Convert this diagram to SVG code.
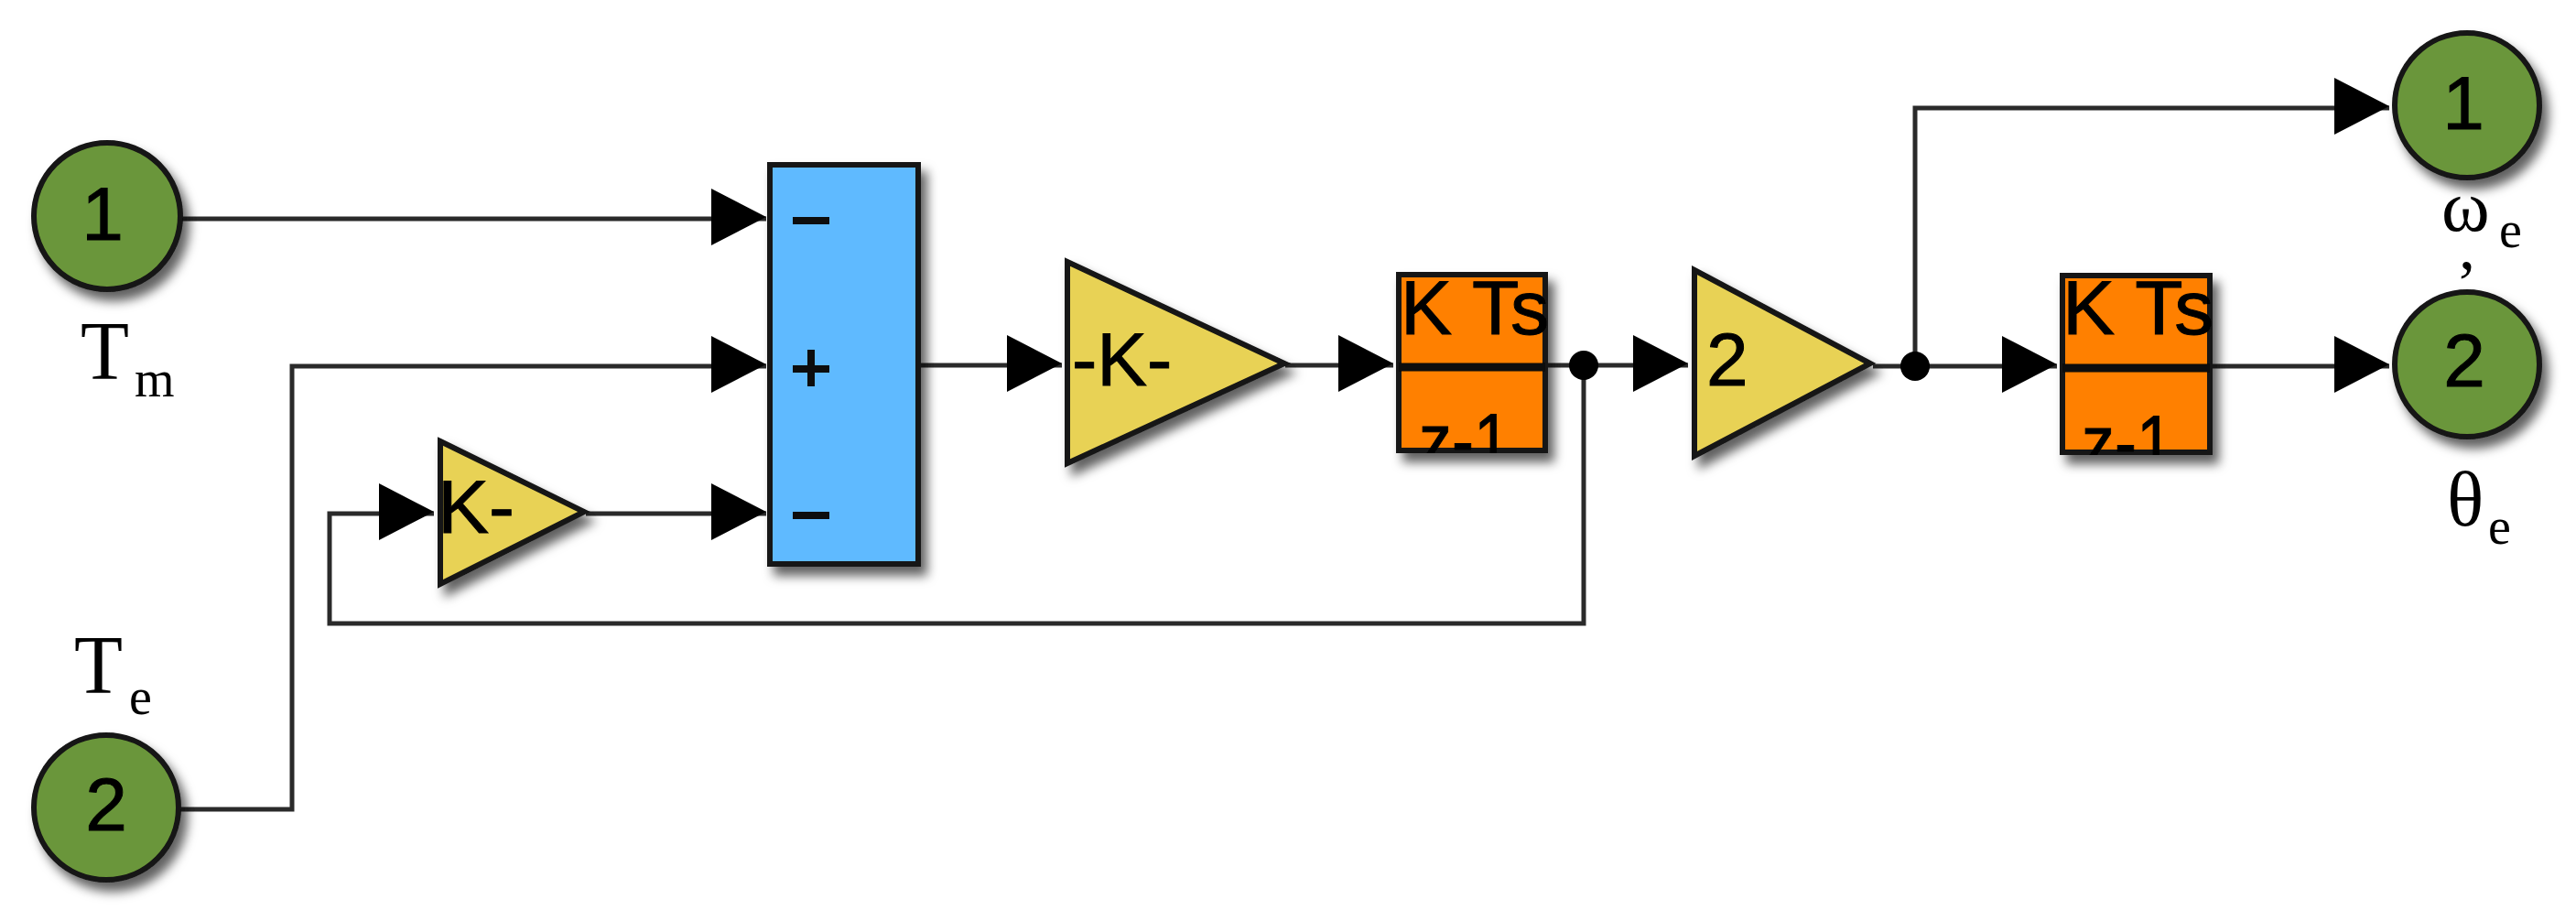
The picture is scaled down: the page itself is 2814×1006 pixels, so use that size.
<svg xmlns="http://www.w3.org/2000/svg" width="2814" height="1006" viewBox="0 0 2814 1006">
  <style>
    .wire { fill: none; stroke: #2b2b2b; stroke-width: 5; }
    .arrow { marker-end: url(#head); }
    .shape { stroke: #141414; stroke-width: 6; stroke-linejoin: miter; filter: url(#shadow); }
    .port { fill: #6b963a; }
    .gain { fill: #e8d255; }
    .sum { fill: #5fbaff; }
    .integ { fill: #ff8000; }
    .block { font-family: "Liberation Sans", Arial, sans-serif; font-size: 82px; fill: #000; stroke: #000; stroke-width: 1; }
    .wide { font-size: 84px; }
    .serif { font-family: "Liberation Serif", "Times New Roman", serif; fill: #000; }
    .big { font-size: 90px; }
    .sub { font-size: 56px; }
    .comma { font-size: 72px; }
    .bar { stroke: #0a0a0a; stroke-width: 9; fill: none; }
    .sign { stroke: #0a0a0a; stroke-width: 8; fill: none; }
  </style>
  <defs>
    <filter id="shadow" x="-20%" y="-20%" width="150%" height="150%">
      <feDropShadow dx="7" dy="10" stdDeviation="6" flood-color="#000" flood-opacity="0.62"/>
    </filter>
    <filter id="soft" filterUnits="userSpaceOnUse" x="0" y="0" width="2814" height="1006">
      <feGaussianBlur stdDeviation="0.7"/>
    </filter>
    <marker id="head" markerUnits="userSpaceOnUse" markerWidth="64" markerHeight="70" refX="60" refY="35" orient="auto" overflow="visible">
      <polygon points="0,2 60,33 0,64" fill="#000"/>
    </marker>
    <clipPath id="clipA"><rect x="1525" y="297" width="165" height="198"/></clipPath>
    <clipPath id="clipB"><rect x="2250" y="298" width="166" height="199"/></clipPath>
  </defs>

  <g filter="url(#soft)">
  <g id="connectors">
    <path class="wire arrow" d="M199 239H837"/>
    <path class="wire arrow" d="M197 884H319V400H837"/>
    <path class="wire arrow" d="M640 561H837"/>
    <path class="wire arrow" d="M1730 399V681H360V561H474"/>
    <path class="wire arrow" d="M1004 399H1160"/>
    <path class="wire arrow" d="M1404 399H1522"/>
    <path class="wire arrow" d="M1690 399H1844"/>
    <path class="wire arrow" d="M2046 400H2247"/>
    <path class="wire arrow" d="M2092 400V118H2610"/>
    <path class="wire arrow" d="M2416 400H2610"/>
    <circle cx="1730" cy="399" r="16" fill="#000"/>
    <circle cx="2092" cy="400" r="16" fill="#000"/>
  </g>

  <g id="in1">
    <circle class="shape port" cx="117" cy="236" r="80"/>
    <text class="block" x="112" y="262" text-anchor="middle">1</text>
    <text class="serif big" x="88" y="414" textLength="53" lengthAdjust="spacingAndGlyphs">T</text>
    <text class="serif sub" x="147" y="433">m</text>
  </g>
  <g id="in2">
    <circle class="shape port" cx="116" cy="882" r="79"/>
    <text class="block" x="116" y="907" text-anchor="middle">2</text>
    <text class="serif big" x="81" y="757" textLength="53" lengthAdjust="spacingAndGlyphs">T</text>
    <text class="serif sub" x="141" y="780">e</text>
  </g>

  <g id="sum">
    <rect class="shape sum" x="841" y="180" width="162" height="436"/>
    <path class="sign" d="M866 241H906M866 403H906M886 382V422M866 563H906"/>
  </g>

  <g id="gain-feedback">
    <polygon class="shape gain" points="481,482 638,559 481,638"/>
    <text class="block" x="478" y="582" textLength="84" lengthAdjust="spacingAndGlyphs">K-</text>
  </g>
  <g id="gain-k">
    <polygon class="shape gain" points="1166,286 1403,397 1166,506"/>
    <text class="block" x="1171" y="421">-K-</text>
  </g>
  <g id="integrator1">
    <rect class="shape integ" x="1528" y="300" width="160" height="192"/>
    <path class="bar" d="M1528 401H1688"/>
    <text class="block wide" x="1530" y="365" textLength="162" lengthAdjust="spacingAndGlyphs">K Ts</text>
    <text class="block wide" x="1550" y="510" clip-path="url(#clipA)" textLength="100" lengthAdjust="spacingAndGlyphs">z-1</text>
  </g>
  <g id="gain-2">
    <polygon class="shape gain" points="1851,295 2043,397 1851,498"/>
    <text class="block" x="1864" y="421">2</text>
  </g>
  <g id="integrator2">
    <rect class="shape integ" x="2253" y="301" width="161" height="193"/>
    <path class="bar" d="M2253 402H2414"/>
    <text class="block wide" x="2253" y="365" textLength="165" lengthAdjust="spacingAndGlyphs">K Ts</text>
    <text class="block wide" x="2274" y="512" clip-path="url(#clipB)" textLength="100" lengthAdjust="spacingAndGlyphs">z-1</text>
  </g>
  <g id="out1">
    <circle class="shape port" cx="2695" cy="115" r="79"/>
    <text class="block" x="2691" y="141" text-anchor="middle">1</text>
    <text class="serif" font-size="80" x="2667" y="252">ω<tspan class="sub" x="2730" y="270">e</tspan><tspan class="comma" x="2686" y="293">,</tspan></text>
  </g>
  <g id="out2">
    <circle class="shape port" cx="2695" cy="398" r="79"/>
    <text class="block" x="2692" y="422" text-anchor="middle">2</text>
    <text class="serif" font-size="84" x="2673" y="574">θ</text>
    <text class="serif sub" x="2718" y="594">e</text>
  </g>
  </g>
</svg>
